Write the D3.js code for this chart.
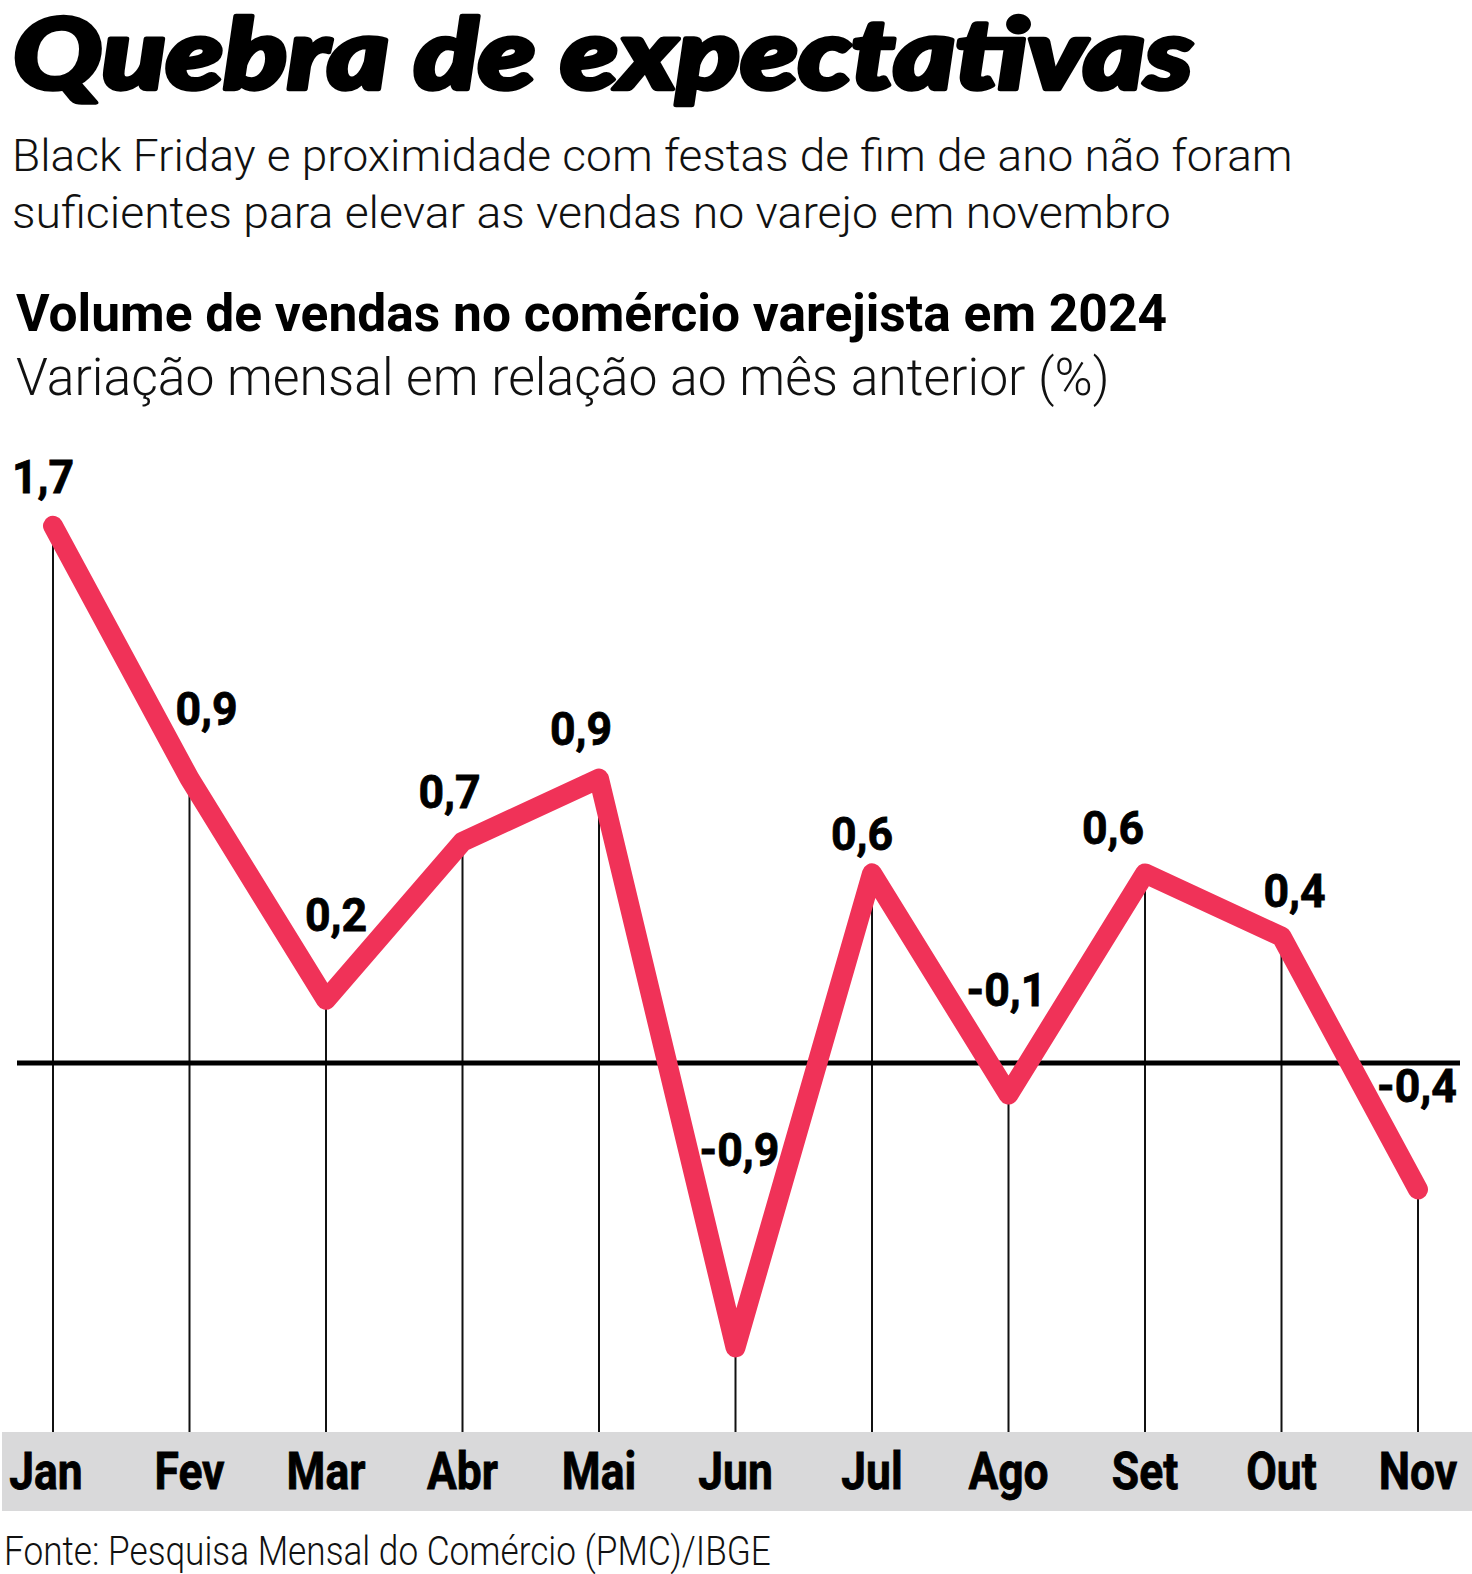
<!DOCTYPE html>
<html>
<head>
<meta charset="utf-8">
<script src="https://cdn.jsdelivr.net/npm/d3@7"></script>
<style>
  html, body { margin: 0; padding: 0; background: #ffffff; }
  svg { display: block; }
</style>
</head>
<body>
<svg id="chart" width="1472" height="1574"></svg>
<script>
// ---------- DATA ----------
const months = ["Jan", "Fev", "Mar", "Abr", "Mai", "Jun", "Jul", "Ago", "Set", "Out", "Nov"];
const values = [1.7, 0.9, 0.2, 0.7, 0.9, -0.9, 0.6, -0.1, 0.6, 0.4, -0.4];

const titleText = "Quebra de expectativas";
const subtitleLines = [
  "Black Friday e proximidade com festas de fim de ano não foram",
  "suficientes para elevar as vendas no varejo em novembro"
];
const chartTitle = "Volume de vendas no comércio varejista em 2024";
const chartSubtitle = "Variação mensal em relação ao mês anterior (%)";
const sourceText = "Fonte: Pesquisa Mensal do Comércio (PMC)/IBGE";

// ---------- LAYOUT (not data) ----------
// label offsets relative to each point: [dx, dy of baseline]
const labelOffsets = [
  [-10, -33], [17, -54], [10, -69], [-13, -34], [-18, -34], [4, -181],
  [-10, -23], [-2, -89], [-32, -29], [13, -30], [-1, -87]
];

const svg = d3.select("#chart");
const RED = "#f03258";

const x = d3.scalePoint().domain(months).range([53, 1418]);
const y = d3.scaleLinear().domain([0, 1]).range([1063, 1063 - 316]);

const bandTop = 1432, bandBottom = 1511;

const ptBR = d3.formatLocale({ decimal: ",", thousands: ".", grouping: [3], currency: ["R$", ""], minus: "-" });
const fmt = ptBR.format(".1f");

// helper: fit a left-anchored text line to a target width by horizontal scaling
function fitText(sel, x0, y0, width) {
  const len = sel.node().getComputedTextLength();
  const k = width / len;
  sel.attr("x", 0).attr("y", 0)
     .attr("transform", `translate(${x0},${y0}) scale(${k},1)`);
  return sel;
}

// ---------- HEADER ----------
const title = svg.append("text")
  .attr("font-family", "Lato, 'Open Sans', sans-serif")
  .attr("font-weight", 900)
  .attr("font-style", "italic")
  .attr("font-size", 98)
  .attr("fill", "#000")
  .attr("stroke", "#000")
  .attr("stroke-width", 4.5)
  .attr("stroke-linejoin", "round")
  .text(titleText);
fitText(title, 13, 89, 1180);

const subW = [1281, 1159];
const subY = [171, 228];
subtitleLines.forEach((t, i) => {
  const s = svg.append("text")
    .attr("font-family", "Roboto, 'Open Sans', sans-serif")
    .attr("font-weight", 300)
    .attr("font-size", 45)
    .attr("fill", "#111")
    .text(t);
  fitText(s, 12, subY[i], subW[i]);
});

const ct = svg.append("text")
  .attr("font-family", "Roboto, 'Open Sans', sans-serif")
  .attr("font-weight", 700)
  .attr("font-size", 52)
  .attr("fill", "#000")
  .text(chartTitle);
fitText(ct, 16, 331, 1151);

const cs = svg.append("text")
  .attr("font-family", "Roboto, 'Open Sans', sans-serif")
  .attr("font-weight", 300)
  .attr("font-size", 52)
  .attr("fill", "#111")
  .text(chartSubtitle);
fitText(cs, 16, 395, 1094);

// ---------- CHART ----------
// grey month band
svg.append("rect")
  .attr("x", 2).attr("y", bandTop)
  .attr("width", 1470).attr("height", bandBottom - bandTop)
  .attr("fill", "#d9d9da");

// vertical drop lines
svg.append("g").selectAll("line")
  .data(months)
  .join("line")
  .attr("x1", d => x(d)).attr("x2", d => x(d))
  .attr("y1", (d, i) => y(values[i])).attr("y2", bandTop)
  .attr("stroke", "#111").attr("stroke-width", 2);

// zero line
svg.append("line")
  .attr("x1", 17).attr("x2", 1460)
  .attr("y1", y(0)).attr("y2", y(0))
  .attr("stroke", "#000").attr("stroke-width", 5);

// data line
const line = d3.line()
  .x((d, i) => x(months[i]))
  .y(d => y(d));

svg.append("path")
  .datum(values)
  .attr("d", line)
  .attr("fill", "none")
  .attr("stroke", RED)
  .attr("stroke-width", 20)
  .attr("stroke-linejoin", "round")
  .attr("stroke-linecap", "round");

// value labels
svg.append("g").selectAll("text")
  .data(values)
  .join("text")
  .attr("text-anchor", "middle")
  .attr("font-family", "Roboto, 'Open Sans', sans-serif")
  .attr("font-weight", 700)
  .attr("font-size", 47)
  .attr("fill", "#000")
  .attr("stroke", "#000")
  .attr("stroke-width", 0.8)
  .attr("transform", (d, i) => {
    const px = x(months[i]) + labelOffsets[i][0];
    const py = y(d) + labelOffsets[i][1];
    return `translate(${px},${py}) scale(0.95,1)`;
  })
  .text(d => fmt(d));

// month labels
svg.append("g").selectAll("text")
  .data(months)
  .join("text")
  .attr("text-anchor", "middle")
  .attr("font-family", "Roboto, 'Open Sans', sans-serif")
  .attr("font-weight", 700)
  .attr("font-size", 51)
  .attr("fill", "#000")
  .attr("stroke", "#000")
  .attr("stroke-width", 0.8)
  .attr("transform", d => `translate(${x(d) - (d === "Jan" ? 7 : 0)},1489) scale(0.87,1)`)
  .text(d => d);

// ---------- FOOTER ----------
const src = svg.append("text")
  .attr("font-family", "Roboto, 'Open Sans', sans-serif")
  .attr("font-weight", 300)
  .attr("font-size", 41)
  .attr("fill", "#111")
  .text(sourceText);
fitText(src, 4, 1565, 767);
</script>
</body>
</html>
